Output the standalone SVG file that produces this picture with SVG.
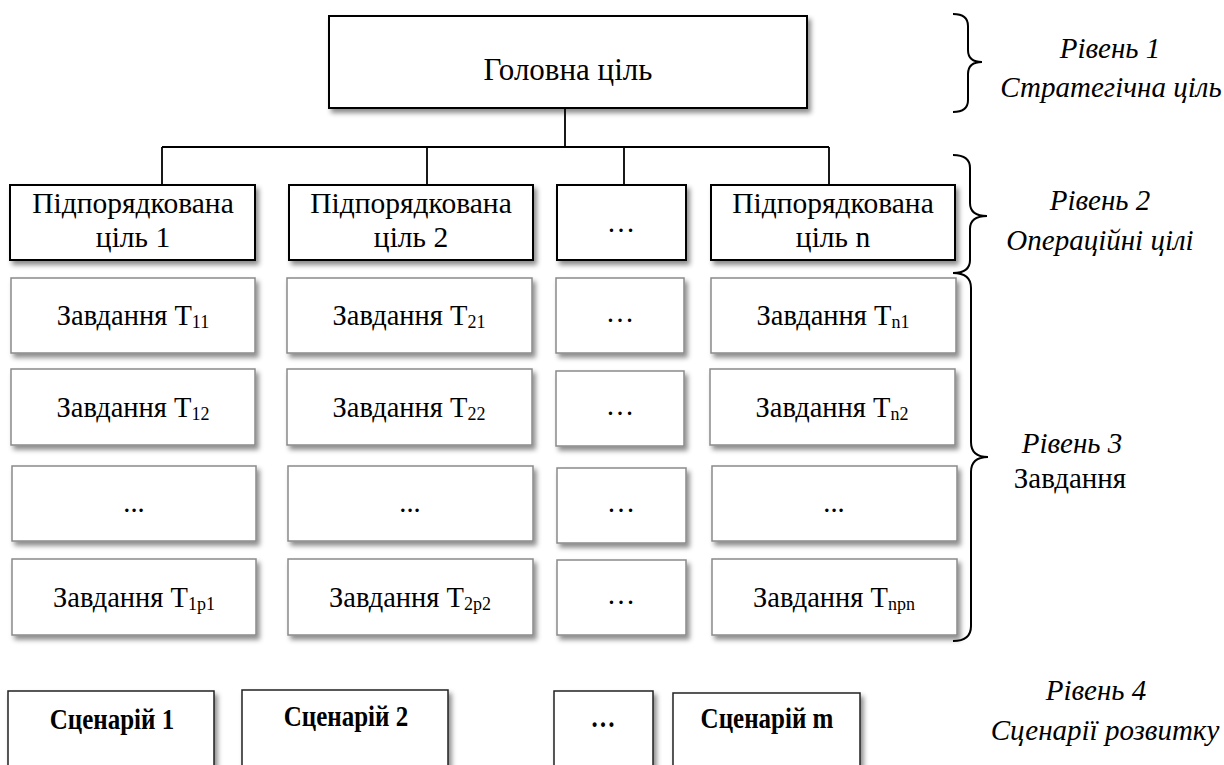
<svg xmlns="http://www.w3.org/2000/svg" width="1224" height="765" viewBox="0 0 1224 765">
  <defs>
    <filter id="shadow" x="-10%" y="-10%" width="130%" height="150%">
      <feDropShadow dx="3" dy="4" stdDeviation="2.5" flood-color="#000" flood-opacity="0.45"/>
    </filter>
  </defs>
  <style>
    .goal { fill: #fff; stroke: #000; stroke-width: 2; filter: url(#shadow); }
    .task { fill: #fff; stroke: #8a8a8a; stroke-width: 1.5; filter: url(#shadow); }
    .scen { fill: #fff; stroke: #222; stroke-width: 1.5; filter: url(#shadow); }
    .t { font-family: "Liberation Serif", "Times New Roman", serif; font-size: 28.5px; fill: #000; text-anchor: middle; }
    .big { font-size: 31px; }
    .mid { font-size: 29.5px; }
    .lbl { font-size: 29px; }
    .sub { font-size: 18px; }
    .b { font-weight: bold; font-size: 25px; }
    .i { font-style: italic; }
    .link { stroke: #000; stroke-width: 1.8; fill: none; }
    .brace { stroke: #000; stroke-width: 2; fill: none; }
  </style>

  <rect width="1224" height="765" fill="#fff"/>

  <!-- connectors: main goal to subordinate goals -->
  <g id="connectors">
    <line class="link" x1="565" y1="108" x2="565" y2="147"/>
    <line class="link" x1="162" y1="147" x2="829" y2="147"/>
    <line class="link" x1="162" y1="147" x2="162" y2="185"/>
    <line class="link" x1="427" y1="147" x2="427" y2="185"/>
    <line class="link" x1="624" y1="147" x2="624" y2="185"/>
    <line class="link" x1="829" y1="147" x2="829" y2="185"/>
  </g>

  <!-- level 1 -->
  <g id="main-goal">
    <rect class="goal" x="329" y="16" width="478" height="92"/>
    <text class="t big" x="568" y="80">Головна ціль</text>
  </g>

  <!-- level 2 -->
  <g id="goal-1">
    <rect class="goal" x="10" y="185" width="245" height="75"/>
    <text class="t mid" x="133" y="213">Підпорядкована</text>
    <text class="t mid" x="133" y="247">ціль 1</text>
  </g>
  <g id="goal-2">
    <rect class="goal" x="289" y="185" width="244" height="75"/>
    <text class="t mid" x="411" y="213">Підпорядкована</text>
    <text class="t mid" x="411" y="247">ціль 2</text>
  </g>
  <g id="goal-dots">
    <rect class="goal" x="557" y="185" width="129" height="75"/>
    <text class="t" x="621" y="232">…</text>
  </g>
  <g id="goal-n">
    <rect class="goal" x="711" y="185" width="244" height="75"/>
    <text class="t mid" x="833" y="213">Підпорядкована</text>
    <text class="t mid" x="833" y="247">ціль n</text>
  </g>

  <!-- level 3: tasks, column 1 -->
  <g id="task-11">
    <rect class="task" x="11" y="278" width="244" height="75"/>
    <text class="t" x="133" y="325">Завдання T<tspan class="sub" dy="3">11</tspan></text>
  </g>
  <g id="task-12">
    <rect class="task" x="11" y="369" width="244" height="76"/>
    <text class="t" x="133" y="417">Завдання T<tspan class="sub" dy="3">12</tspan></text>
  </g>
  <g id="task-1-dots">
    <rect class="task" x="12" y="466" width="244" height="75"/>
    <text class="t" x="134" y="512">...</text>
  </g>
  <g id="task-1p1">
    <rect class="task" x="12" y="559" width="244" height="76"/>
    <text class="t" x="134" y="607">Завдання T<tspan class="sub" dy="3">1p1</tspan></text>
  </g>

  <!-- column 2 -->
  <g id="task-21">
    <rect class="task" x="287" y="278" width="245" height="75"/>
    <text class="t" x="409" y="325">Завдання T<tspan class="sub" dy="3">21</tspan></text>
  </g>
  <g id="task-22">
    <rect class="task" x="287" y="369" width="245" height="76"/>
    <text class="t" x="409" y="417">Завдання T<tspan class="sub" dy="3">22</tspan></text>
  </g>
  <g id="task-2-dots">
    <rect class="task" x="288" y="466" width="245" height="75"/>
    <text class="t" x="410" y="512">...</text>
  </g>
  <g id="task-2p2">
    <rect class="task" x="288" y="559" width="245" height="76"/>
    <text class="t" x="410" y="607">Завдання T<tspan class="sub" dy="3">2p2</tspan></text>
  </g>

  <!-- column 3 -->
  <g id="task-x1">
    <rect class="task" x="556" y="278" width="128" height="75"/>
    <text class="t" x="620" y="322">…</text>
  </g>
  <g id="task-x2">
    <rect class="task" x="556" y="371" width="128" height="75"/>
    <text class="t" x="620" y="415">…</text>
  </g>
  <g id="task-x3">
    <rect class="task" x="557" y="468" width="129" height="75"/>
    <text class="t" x="621" y="512">…</text>
  </g>
  <g id="task-x4">
    <rect class="task" x="557" y="560" width="129" height="75"/>
    <text class="t" x="621" y="604">…</text>
  </g>

  <!-- column 4 -->
  <g id="task-n1">
    <rect class="task" x="711" y="278" width="245" height="75"/>
    <text class="t" x="833" y="325">Завдання T<tspan class="sub" dy="3">n1</tspan></text>
  </g>
  <g id="task-n2">
    <rect class="task" x="710" y="369" width="245" height="76"/>
    <text class="t" x="832" y="417">Завдання T<tspan class="sub" dy="3">n2</tspan></text>
  </g>
  <g id="task-n-dots">
    <rect class="task" x="712" y="466" width="245" height="75"/>
    <text class="t" x="834" y="512">...</text>
  </g>
  <g id="task-npn">
    <rect class="task" x="712" y="559" width="245" height="76"/>
    <text class="t" x="834" y="607">Завдання T<tspan class="sub" dy="3">npn</tspan></text>
  </g>

  <!-- level 4: scenarios (bold captions drawn slightly tall) -->
  <g id="scenario-1">
    <rect class="scen" x="8" y="691" width="206" height="100"/>
    <text class="t b" transform="translate(112,729) scale(1,1.2)">Сценарій 1</text>
  </g>
  <g id="scenario-2">
    <rect class="scen" x="242" y="690" width="206" height="100"/>
    <text class="t b" transform="translate(346,726) scale(1,1.2)">Сценарій 2</text>
  </g>
  <g id="scenario-dots">
    <rect class="scen" x="554" y="691" width="99" height="100"/>
    <text class="t b" transform="translate(603,727) scale(1,1.2)">…</text>
  </g>
  <g id="scenario-m">
    <rect class="scen" x="673" y="693" width="187" height="100"/>
    <text class="t b" transform="translate(767,728) scale(1,1.2)">Сценарій m</text>
  </g>

  <!-- level braces -->
  <g id="braces">
    <path class="brace" d="M953,14 Q968,14 968,26 L968,50 Q968,62 982,62 Q968,62 968,74 L968,100 Q968,112 953,112"/>
    <path class="brace" d="M953,155 Q970,155 970,168 L970,203 Q970,216 987,216 Q970,216 970,229 L970,260 Q970,273 953,273"/>
    <path class="brace" d="M953,273 Q971,273 971,288 L971,442 Q971,457 988,457 Q971,457 971,472 L971,626 Q971,641 953,641"/>
  </g>

  <!-- level captions -->
  <g id="level-1">
    <text class="t lbl i" x="1110" y="58">Рівень 1</text>
    <text class="t lbl i" x="1111" y="97">Стратегічна ціль</text>
  </g>
  <g id="level-2">
    <text class="t lbl i" x="1100" y="210">Рівень 2</text>
    <text class="t lbl i" x="1100" y="250">Операційні цілі</text>
  </g>
  <g id="level-3">
    <text class="t lbl i" x="1072" y="453">Рівень 3</text>
    <text class="t lbl" x="1070" y="488">Завдання</text>
  </g>
  <g id="level-4">
    <text class="t lbl i" x="1096" y="700">Рівень 4</text>
    <text class="t lbl i" x="1105" y="740">Сценарії розвитку</text>
  </g>
</svg>
